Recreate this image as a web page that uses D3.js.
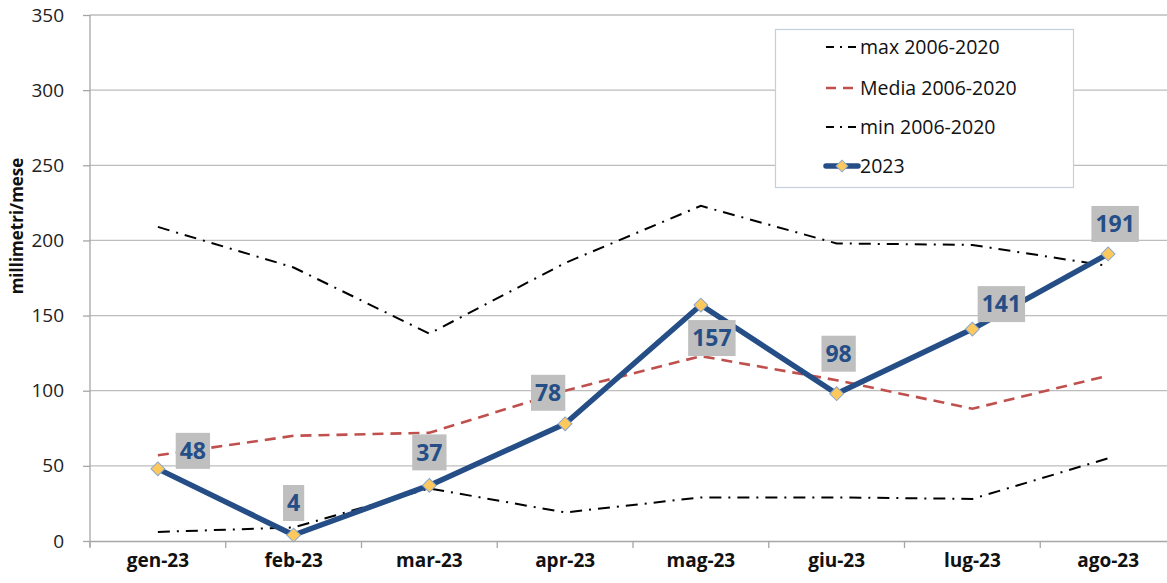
<!DOCTYPE html>
<html><head><meta charset="utf-8">
<script src="https://cdn.jsdelivr.net/npm/d3@7"></script>
<style>
body{margin:0;background:#fff;}
svg{display:block;font-family:"Open Sans","Liberation Sans",sans-serif;}
</style></head>
<body><svg id="c" width="1167" height="583"></svg>
<script>
const categories = ["gen-23","feb-23","mar-23","apr-23","mag-23","giu-23","lug-23","ago-23"];
const maxValues = [209,182,138,185,223,198,197,183];
const mediaValues = [57,70,72,100,123,107,88,110];
const minValues = [6,9,35,19,29,29,28,55];
const values2023 = [48,4,37,78,157,98,141,191];
const yTicks = [0,50,100,150,200,250,300,350];
const seriesNames = ["max 2006-2020","Media 2006-2020","min 2006-2020","2023"];
// label box offsets (layout)
const labelOffsets = [[35,-18],[0,-32],[0,-33],[-17,-31],[11,33],[2,-40],[29,-25],[7,-30]];

const svg = d3.select("#c");
const x = d3.scaleBand().domain(categories).range([90,1176]);
const y = d3.scaleLinear().domain([0,350]).range([541,15]);
const cx = c => x(c) + x.bandwidth()/2;

// gridlines
svg.append("g").selectAll("line").data(yTicks.filter(t=>t>0)).join("line")
  .attr("x1",90).attr("x2",1176).attr("y1",d=>y(d)).attr("y2",d=>y(d))
  .attr("stroke","#bdbdbd").attr("stroke-width",1.3);

// y axis
const ya = svg.append("g").attr("transform","translate(90,0)")
  .call(d3.axisLeft(y).tickValues(yTicks).tickSize(7).tickPadding(19));
ya.select(".domain").attr("stroke","#a6a6a6").attr("stroke-width",1.3).attr("d","M0,15V547");
ya.selectAll(".tick line").attr("stroke","#a6a6a6").attr("stroke-width",1.3);
ya.selectAll(".tick text").attr("font-size",19).attr("fill","#222").style("font-family","'Open Sans',sans-serif");

// x axis
const xa = svg.append("g").attr("transform","translate(0,541)")
  .call(d3.axisBottom(x).tickSize(0).tickPadding(13));
xa.select(".domain").attr("stroke","#a6a6a6").attr("stroke-width",1.3);
xa.selectAll(".tick text").attr("font-size",19).attr("font-weight","bold").attr("fill","#111").style("font-family","'Open Sans',sans-serif");
const bounds = categories.map(c=>x(c)).concat([x(categories[categories.length-1])+x.bandwidth()]);
svg.append("g").selectAll("line").data(bounds).join("line")
  .attr("x1",d=>d).attr("x2",d=>d).attr("y1",541).attr("y2",548)
  .attr("stroke","#a6a6a6").attr("stroke-width",1.3);

// y title
svg.append("text").attr("transform","translate(23,226) rotate(-90)")
  .attr("text-anchor","middle").attr("font-size",17).attr("font-weight","bold")
  .attr("fill","#111").text("millimetri/mese");

const line = d3.line().x((d,i)=>cx(categories[i])).y(d=>y(d));

svg.append("path").datum(maxValues).attr("d",line).attr("fill","none")
  .attr("stroke","#000").attr("stroke-width",2).attr("stroke-dasharray","12,7,2,7");
svg.append("path").datum(minValues).attr("d",line).attr("fill","none")
  .attr("stroke","#000").attr("stroke-width",2).attr("stroke-dasharray","12,7,2,7");
svg.append("path").datum(mediaValues).attr("d",line).attr("fill","none")
  .attr("stroke","#c0504d").attr("stroke-width",2.6).attr("stroke-dasharray","11,7");
svg.append("path").datum(values2023).attr("d",line).attr("fill","none")
  .attr("stroke","#254e87").attr("stroke-width",5.5).attr("stroke-linejoin","round");

svg.append("g").selectAll("path").data(values2023).join("path")
  .attr("d",d3.symbol().type(d3.symbolSquare).size(95)())
  .attr("transform",(d,i)=>`translate(${cx(categories[i])},${y(d)}) rotate(45)`)
  .attr("fill","#fec95c").attr("stroke","#8aa6cc").attr("stroke-width",1);

// data labels
const lg = svg.append("g").selectAll("g").data(values2023).join("g")
  .attr("transform",(d,i)=>`translate(${cx(categories[i])+labelOffsets[i][0]},${y(d)+labelOffsets[i][1]})`);
lg.append("text").attr("text-anchor","middle").attr("dy","0.36em")
  .attr("font-size",23).attr("font-weight","bold").attr("fill","#254e87").text(d=>d);
lg.each(function(){
  const g = d3.select(this);
  const bb = g.select("text").node().getBBox();
  g.insert("rect","text").attr("x",bb.x-4).attr("width",bb.width+8)
    .attr("y",-18).attr("height",36).attr("fill","#bfbfbf");
});

// legend
const leg = svg.append("g");
leg.append("rect").attr("x",775.5).attr("y",29.5).attr("width",298).attr("height",158)
  .attr("fill","#fff").attr("stroke","#c5cfdc").attr("stroke-width",1.2);
const legY = [47,88,127,166];
const legStyles = [
  {stroke:"#000",w:2,dash:"8,6,2,6"},
  {stroke:"#c0504d",w:2.6,dash:"10,7"},
  {stroke:"#000",w:2,dash:"8,6,2,6"},
  {stroke:"#254e87",w:5.5,dash:null}
];
seriesNames.forEach((n,i)=>{
  const s = legStyles[i];
  const l = leg.append("line").attr("x1",826).attr("x2",858).attr("y1",legY[i]).attr("y2",legY[i])
    .attr("stroke",s.stroke).attr("stroke-width",s.w).attr("stroke-linecap", i===3?"round":"butt");
  if(s.dash) l.attr("stroke-dasharray",s.dash);
  if(i===3){
    leg.append("path").attr("d",d3.symbol().type(d3.symbolSquare).size(70)())
      .attr("transform",`translate(842,${legY[i]}) rotate(45)`)
      .attr("fill","#fec95c").attr("stroke","#8aa6cc").attr("stroke-width",1);
  }
  leg.append("text").attr("x",860).attr("y",legY[i]).attr("dy","0.35em")
    .attr("font-size",19.5).attr("fill","#111").text(n);
});
</script></body></html>
